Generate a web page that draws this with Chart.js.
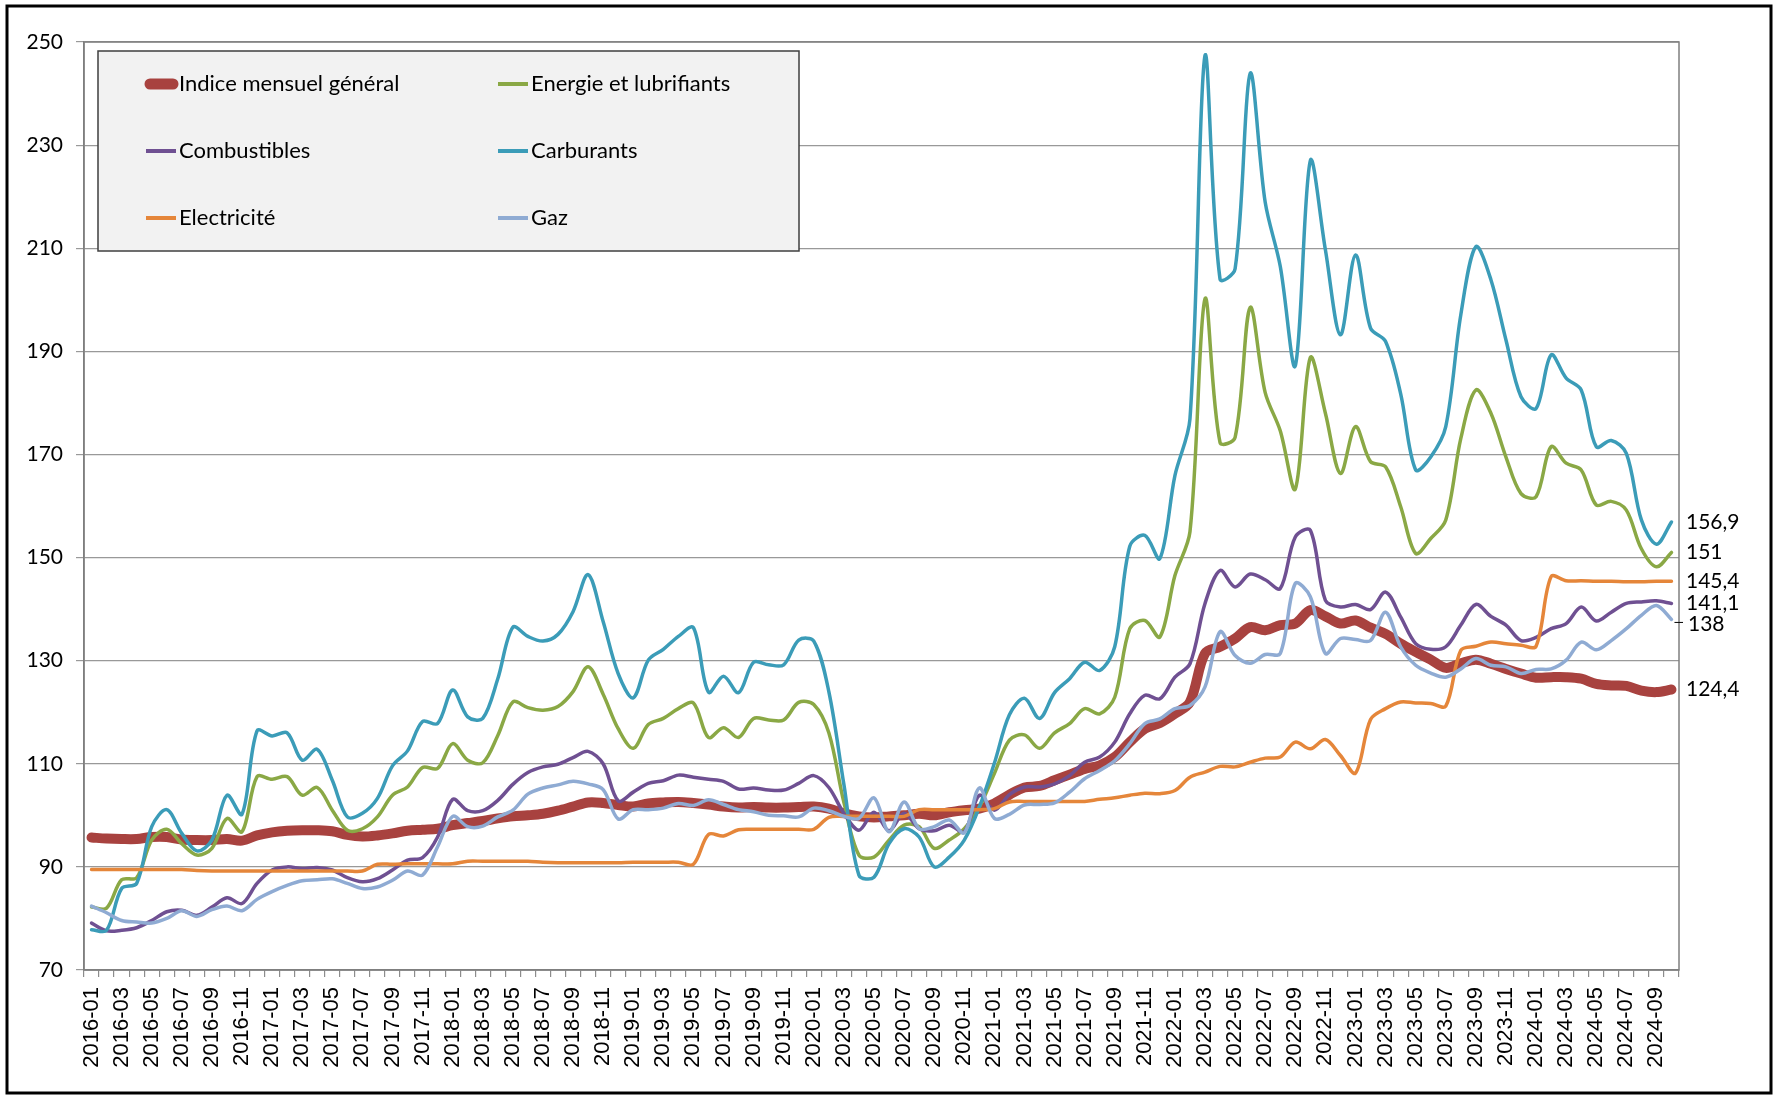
<!DOCTYPE html>
<html>
<head>
<meta charset="utf-8">
<title>Indices énergie</title>
<script src="https://cdn.jsdelivr.net/npm/chart.js@4.4.0/dist/chart.umd.min.js"></script>
<style>
    body { margin: 0; background: #fff; }
    canvas { display: block; }
</style>
</head>
<body>
<canvas id="myChart" width="1775" height="1097"></canvas>
<script>
const labels = [
    '2016-01', '2016-02', '2016-03', '2016-04', '2016-05', '2016-06', '2016-07', '2016-08', '2016-09', '2016-10', '2016-11', '2016-12',
    '2017-01', '2017-02', '2017-03', '2017-04', '2017-05', '2017-06', '2017-07', '2017-08', '2017-09', '2017-10', '2017-11', '2017-12',
    '2018-01', '2018-02', '2018-03', '2018-04', '2018-05', '2018-06', '2018-07', '2018-08', '2018-09', '2018-10', '2018-11', '2018-12',
    '2019-01', '2019-02', '2019-03', '2019-04', '2019-05', '2019-06', '2019-07', '2019-08', '2019-09', '2019-10', '2019-11', '2019-12',
    '2020-01', '2020-02', '2020-03', '2020-04', '2020-05', '2020-06', '2020-07', '2020-08', '2020-09', '2020-10', '2020-11', '2020-12',
    '2021-01', '2021-02', '2021-03', '2021-04', '2021-05', '2021-06', '2021-07', '2021-08', '2021-09', '2021-10', '2021-11', '2021-12',
    '2022-01', '2022-02', '2022-03', '2022-04', '2022-05', '2022-06', '2022-07', '2022-08', '2022-09', '2022-10', '2022-11', '2022-12',
    '2023-01', '2023-02', '2023-03', '2023-04', '2023-05', '2023-06', '2023-07', '2023-08', '2023-09', '2023-10', '2023-11', '2023-12',
    '2024-01', '2024-02', '2024-03', '2024-04', '2024-05', '2024-06', '2024-07', '2024-08', '2024-09', '2024-10'
];

const indiceGeneral = [
    95.7, 95.5, 95.4, 95.4, 95.8, 95.8, 95.3, 95.2, 95.2, 95.4, 95.1, 96.1,
    96.7, 97.0, 97.1, 97.1, 96.9, 96.2, 95.9, 96.1, 96.5, 97.0, 97.2, 97.4,
    98.1, 98.5, 98.9, 99.4, 99.8, 100.0, 100.3, 100.9, 101.7, 102.5, 102.4, 102.0,
    101.7, 102.3, 102.5, 102.6, 102.4, 102.1, 101.7, 101.5, 101.6, 101.5, 101.5, 101.6,
    101.7, 101.3, 100.4, 99.8, 99.6, 99.8, 100.0, 100.3, 100.0, 100.6, 101.0, 101.3,
    102.3, 104.0, 105.4, 105.7, 106.8, 107.9, 109.0, 109.7, 111.3, 114.2, 116.8, 117.9,
    119.7, 122.0, 131.4, 132.7, 134.3, 136.5, 135.9, 136.9, 137.2, 139.8, 138.6, 137.2,
    137.8, 136.4, 135.2, 133.3, 131.7, 130.2, 128.6, 129.5, 130.2, 129.4, 128.4, 127.5,
    126.7, 126.8, 126.8, 126.5, 125.5, 125.2, 125.1, 124.2, 123.9, 124.4
];

const energie = [
    82.2, 82.0, 87.5, 87.9, 95.2, 97.3, 94.5, 92.3, 93.6, 99.4, 96.8, 107.5,
    107.0, 107.5, 103.9, 105.4, 101.0, 97.1, 97.4, 99.7, 103.9, 105.5, 109.3, 109.1,
    113.9, 110.7, 110.2, 115.5, 122.0, 120.9, 120.4, 121.1, 124.0, 128.8, 123.5, 116.8,
    113.0, 117.6, 118.8, 120.7, 121.8, 115.1, 117.0, 115.1, 118.8, 118.5, 118.5, 121.9,
    121.5, 116.0, 102.5, 92.3, 91.9, 95.2, 98.1, 97.8, 93.6, 95.2, 97.4, 101.6,
    108.1, 114.6, 115.6, 113.0, 116.0, 117.8, 120.7, 119.7, 122.9, 136.2, 137.8, 134.6,
    146.5, 155.0, 200.2, 172.3, 173.3, 198.5, 182.0, 174.6, 163.3, 188.8, 178.0, 166.3,
    175.4, 168.6, 167.6, 159.9, 150.8, 153.7, 157.3, 173.1, 182.5, 178.0, 169.5, 162.4,
    161.8, 171.5, 168.3, 167.0, 160.2, 160.9, 159.2, 151.7, 148.2, 151
];

const combustibles = [
    79.1, 77.6, 77.7, 78.2, 79.6, 81.3, 81.6, 80.6, 82.2, 84.0, 82.9, 86.8,
    89.4, 90.0, 89.7, 89.9, 89.4, 87.9, 87.1, 87.7, 89.4, 91.3, 91.8, 95.8,
    103.1, 100.9, 100.9, 102.9, 106.0, 108.3, 109.4, 109.9, 111.2, 112.4, 110.0, 102.8,
    104.5, 106.2, 106.7, 107.8, 107.4, 107.0, 106.6, 105.1, 105.3, 104.9, 104.9, 106.2,
    107.7, 105.4, 100.4, 97.1, 100.6, 97.0, 100.4, 97.4, 97.0, 98.1, 96.8, 103.9,
    101.0, 104.0, 105.5, 105.5, 106.1, 107.7, 110.3, 111.3, 114.2, 119.7, 123.3, 122.6,
    126.8, 129.4, 141.1, 147.5, 144.3, 146.8, 145.7, 144.0, 154.0, 155.3, 141.7, 140.4,
    140.9, 139.9, 143.3, 138.5, 133.3, 132.2, 132.7, 136.9, 140.9, 138.6, 136.9, 133.9,
    134.5, 136.2, 137.2, 140.4, 137.7, 139.4, 141.1, 141.4, 141.6, 141.1
];

const carburants = [
    77.8, 77.7, 85.8, 86.8, 97.8, 101.1, 96.5, 93.1, 95.2, 103.9, 100.2, 116.4,
    115.4, 116.0, 110.7, 112.8, 106.8, 99.7, 100.4, 103.3, 109.6, 112.5, 118.2, 117.8,
    124.3, 119.1, 118.8, 126.5, 136.5, 134.7, 133.8, 135.1, 139.5, 146.7, 137.6, 127.5,
    122.8, 130.1, 132.2, 134.7, 136.4, 123.9, 127.0, 123.8, 129.7, 129.2, 129.2, 134.0,
    133.8, 124.0, 106.0, 88.4, 88.0, 94.5, 97.4, 95.8, 90.0, 91.9, 95.2, 101.6,
    110.1, 119.5, 122.7, 118.8, 123.8, 126.5, 129.7, 128.1, 132.7, 152.2, 154.3, 149.8,
    165.9, 176.9, 247.4, 204.0, 206.0, 243.9, 218.9, 206.5, 187.2, 227.0, 209.7, 193.2,
    208.7, 194.5, 191.9, 181.8, 167.0, 169.5, 175.4, 197.1, 210.3, 203.9, 192.2, 181.2,
    178.9, 189.3, 184.8, 182.5, 171.5, 172.7, 170.2, 157.3, 152.6, 156.9
];

const electricite = [
    89.5, 89.5, 89.5, 89.5, 89.5, 89.5, 89.5, 89.3, 89.2, 89.2, 89.2, 89.2,
    89.2, 89.2, 89.2, 89.2, 89.2, 89.2, 89.2, 90.5, 90.5, 90.6, 90.6, 90.6,
    90.6, 91.1, 91.1, 91.1, 91.1, 91.1, 90.9, 90.8, 90.8, 90.8, 90.8, 90.8,
    90.9, 90.9, 90.9, 90.9, 90.5, 96.3, 96.0, 97.2, 97.3, 97.3, 97.3, 97.3,
    97.3, 99.6, 99.8, 99.8, 99.8, 99.8, 99.8, 101.1, 101.1, 101.1, 101.1, 101.1,
    101.3, 102.6, 102.7, 102.7, 102.7, 102.7, 102.7, 103.1, 103.4, 103.9, 104.3, 104.2,
    104.8, 107.4, 108.4, 109.5, 109.4, 110.3, 111.1, 111.3, 114.2, 112.9, 114.7, 111.6,
    108.2, 118.6, 120.7, 122.0, 121.8, 121.7, 121.2, 132.0, 132.8, 133.6, 133.3, 133.0,
    132.8, 146.3, 145.5, 145.5, 145.4, 145.4, 145.3, 145.3, 145.4, 145.4
];

const gaz = [
    82.4, 81.1, 79.6, 79.3, 79.1, 80.0, 81.5, 80.4, 81.7, 82.4, 81.5, 83.7,
    85.2, 86.4, 87.3, 87.5, 87.7, 86.8, 85.8, 86.1, 87.4, 89.2, 88.4, 93.9,
    99.8, 97.8, 97.9, 99.7, 101.0, 104.1, 105.3, 105.9, 106.6, 106.1, 105.0, 99.3,
    101.1, 101.1, 101.4, 102.3, 101.9, 103.0, 102.1, 101.1, 100.7, 100.0, 99.9, 99.7,
    101.4, 100.9, 99.8, 99.4, 103.4, 96.8, 102.6, 97.4, 97.8, 99.1, 96.6, 105.3,
    99.4, 100.2, 102.0, 102.1, 102.4, 104.5, 107.1, 108.7, 110.6, 113.9, 117.8, 118.7,
    120.7, 121.3, 124.9, 135.6, 131.0, 129.5, 131.2, 131.4, 145.0, 142.4, 131.4, 134.3,
    134.1, 133.9, 139.4, 132.7, 129.1, 127.6, 126.8, 128.4, 130.4, 129.1, 128.8, 127.5,
    128.3, 128.4, 130.1, 133.6, 132.1, 133.9, 136.2, 138.8, 140.7, 138
];

const nomsSeries = ['Indice mensuel général', 'Energie et lubrifiants', 'Combustibles', 'Carburants', 'Electricité', 'Gaz'];
const yTicks = [70, 90, 110, 130, 150, 170, 190, 210, 230, 250];

const couleurs = ['#A8423F', '#8AA845', '#6F5092', '#3B9CB8', '#E5863A', '#8FABD3'];
const police = "Lato, 'Open Sans', sans-serif";

document.addEventListener("DOMContentLoaded", function() {
    mychart();
})

// fond blanc + cadre noir du graphique + bordure de la zone de tracé
const fondEtCadre = {
    id: 'fondEtCadre',
    beforeDraw(chart) {
        const c = chart.ctx;
        c.save();
        c.fillStyle = '#ffffff';
        c.fillRect(0, 0, chart.width, chart.height);
        c.restore();
    },
    beforeDatasetsDraw(chart) {
        const c = chart.ctx;
        const a = chart.chartArea;
        c.save();
        c.strokeStyle = '#7f7f7f';
        c.lineWidth = 1.5;
        c.strokeRect(a.left, a.top, a.right - a.left, a.bottom - a.top);
        c.restore();
    },
    afterDraw(chart) {
        const c = chart.ctx;
        c.save();
        c.strokeStyle = '#000000';
        c.lineWidth = 3;
        c.strokeRect(7, 6, 1764, 1087);
        c.restore();
    }
};

// légende dans un cadre gris, 3 lignes x 2 colonnes
const legendeBoite = {
    id: 'legendeBoite',
    afterDraw(chart) {
        const c = chart.ctx;
        const colX = [144, 496];
        const rowY = [84, 151, 218];
        c.save();
        c.fillStyle = '#f2f2f2';
        c.fillRect(98, 51, 701, 200);
        c.strokeStyle = '#3f3f3f';
        c.lineWidth = 1.5;
        c.strokeRect(98, 51, 701, 200);
        chart.data.datasets.forEach(function(ds, i) {
            const x = colX[i % 2];
            const y = rowY[Math.floor(i / 2)];
            c.beginPath();
            c.strokeStyle = ds.borderColor;
            if (i === 0) {
                c.lineWidth = 11;
                c.lineCap = 'round';
                c.moveTo(x + 6, y);
                c.lineTo(x + 29, y);
            } else {
                c.lineWidth = 4;
                c.lineCap = 'butt';
                c.moveTo(x + 2, y);
                c.lineTo(x + 32, y);
            }
            c.stroke();
            c.fillStyle = '#000000';
            c.font = '22px ' + police;
            c.textBaseline = 'middle';
            c.fillText(ds.label, x + 35, y);
        });
        c.restore();
    }
};

// valeurs du dernier mois à droite de la zone de tracé
const etiquettesFin = {
    id: 'etiquettesFin',
    afterDatasetsDraw(chart) {
        const c = chart.ctx;
        const a = chart.chartArea;
        c.save();
        c.font = '21px ' + police;
        c.fillStyle = '#000000';
        c.textBaseline = 'middle';
        chart.data.datasets.forEach(function(ds, i) {
            const meta = chart.getDatasetMeta(i);
            const pt = meta.data[meta.data.length - 1];
            const v = ds.data[ds.data.length - 1];
            let y = pt.y;
            let x = a.right + 7;
            if (i === 5) {
                c.beginPath();
                c.strokeStyle = '#000000';
                c.lineWidth = 1;
                c.moveTo(pt.x + 3, y + 3);
                c.lineTo(a.right + 4, y + 3);
                c.stroke();
                y += 5;
                x += 2;
            }
            c.fillText(String(v).replace('.', ','), x, y);
        });
        c.restore();
    }
};

function mychart() {
    const series = [indiceGeneral, energie, combustibles, carburants, electricite, gaz];
    const data = {
        labels: labels,
        datasets: series.map(function(values, i) {
            return {
                label: nomsSeries[i],
                data: values,
                borderColor: couleurs[i],
                backgroundColor: couleurs[i],
                borderWidth: i === 0 ? 10 : 3.5,
                borderCapStyle: 'round',
                borderJoinStyle: 'round',
                pointRadius: 0,
                tension: 0.33,
                fill: false,
                order: 6 - i
            };
        })
    };

    const ctx = document.getElementById('myChart');

    new Chart(ctx, {
        type: 'line',
        data: data,
        plugins: [fondEtCadre, legendeBoite, etiquettesFin],
        options: {
            responsive: false,
            devicePixelRatio: 1,
            animation: false,
            layout: {
                padding: { top: 42, right: 96, bottom: 0, left: 0 }
            },
            plugins: {
                legend: false,
                tooltip: { enabled: false }
            },
            scales: {
                x: {
                    type: 'category',
                    offset: true,
                    afterFit: function(scale) { scale.height = 127; },
                    grid: {
                        offset: true,
                        drawOnChartArea: false,
                        drawTicks: true,
                        tickLength: 7,
                        color: '#8c8c8c',
                        lineWidth: 1.2
                    },
                    border: { display: true, color: '#7f7f7f', width: 1.5 },
                    ticks: {
                        autoSkip: false,
                        maxRotation: 90,
                        minRotation: 90,
                        padding: 10,
                        color: '#000000',
                        font: { family: "'Liberation Sans', Arial, sans-serif", size: 22 },
                        callback: function(val, idx) {
                            return idx % 2 === 0 ? this.getLabelForValue(val) : '';
                        }
                    }
                },
                y: {
                    min: 70,
                    max: 250,
                    afterFit: function(scale) { scale.width = 84; },
                    afterBuildTicks: function(scale) {
                        scale.ticks = yTicks.map(function(v) { return { value: v }; });
                    },
                    grid: {
                        color: '#999999',
                        lineWidth: 1.2,
                        tickLength: 8
                    },
                    border: { display: true, color: '#7f7f7f', width: 1.5 },
                    ticks: {
                        padding: 13,
                        color: '#000000',
                        font: { family: police, size: 21 }
                    }
                }
            }
        }
    });
}
</script>
</body>
</html>
